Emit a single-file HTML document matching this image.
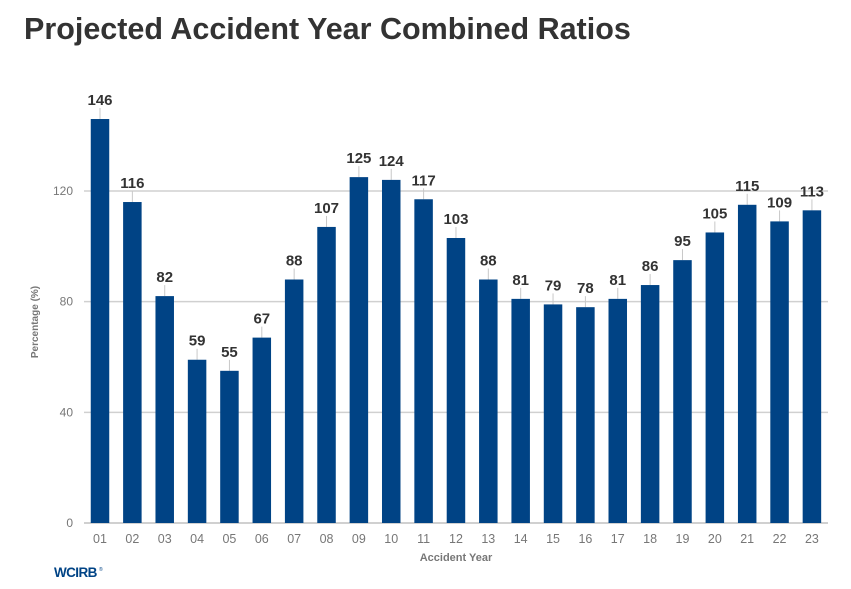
<!DOCTYPE html>
<html><head><meta charset="utf-8"><style>
body{margin:0;background:#fff;font-family:"Liberation Sans",Arial,sans-serif;}
#wrap{position:relative;width:851px;height:589px;overflow:hidden;}
h1{position:absolute;left:24px;top:12px;margin:0;font-size:30.5px;font-weight:bold;color:#333;}
</style></head><body>
<div id="wrap">
<h1>Projected Accident Year Combined Ratios</h1>
<svg id="chart" width="851" height="589" style="position:absolute;left:0;top:0"></svg>
</div>
<script>
const categories=["01","02","03","04","05","06","07","08","09","10","11","12","13","14","15","16","17","18","19","20","21","22","23"];
const values=[146,116,82,59,55,67,88,107,125,124,117,103,88,81,79,78,81,86,95,105,115,109,113];
const yTicks=[0,40,80,120];
const NS="http://www.w3.org/2000/svg";
const svg=document.getElementById('chart');
const x0=100,step=32.36,bw=18.5,yZero=523,k=2.767,gx1=84,gx2=828;
function xs(i){return x0+i*step;}
function ys(v){return yZero-v*k;}
function mk(t,a,txt){const e=document.createElementNS(NS,t);for(const n in a)e.setAttribute(n,a[n]);if(txt!==undefined)e.textContent=txt;svg.appendChild(e);return e;}
yTicks.forEach(t=>{
 const g=mk('line',{x1:gx1,x2:gx2,y1:ys(t),y2:ys(t),stroke:'#d0d0d0','stroke-width':t===0?2:1.5});
 
 
 const l=mk('text',{x:73,y:ys(t)+4,'text-anchor':'end','font-size':12,fill:'#777'},String(t));
 
 
});
values.forEach((v,i)=>{
 const cx=xs(i);
 const ln=mk('line',{x1:cx,x2:cx,y1:ys(v)-11,y2:ys(v),stroke:'#c8c8c8','stroke-width':1});
 
 
 const r=mk('rect',{x:cx-bw/2,y:ys(v),width:bw,height:v*k,fill:'#004385'});
 
 
 const t=mk('text',{x:cx,y:ys(v)-14,'text-anchor':'middle','font-size':15,'font-weight':'bold',fill:'#333'},String(v));
 
 
 const c=mk('text',{x:cx,y:543,'text-anchor':'middle','font-size':12.5,fill:'#777'},categories[i]);
 
 
});
const xt=mk('text',{x:456,y:561,'text-anchor':'middle','font-size':11,'font-weight':'bold',fill:'#777'},'Accident Year');


const yt=mk('text',{x:0,y:0,'text-anchor':'middle','font-size':10,'font-weight':'bold',fill:'#777',transform:'translate(38,322) rotate(-90)'},'Percentage (%)');


const lg=mk('text',{x:54,y:577,'font-size':13.5,'font-weight':'900',fill:'#004385','letter-spacing':'-0.6'},'WCIRB');


const rg=mk('text',{x:99,y:571,'font-size':5,fill:'#004385'},'®');


</script>
</body></html>
